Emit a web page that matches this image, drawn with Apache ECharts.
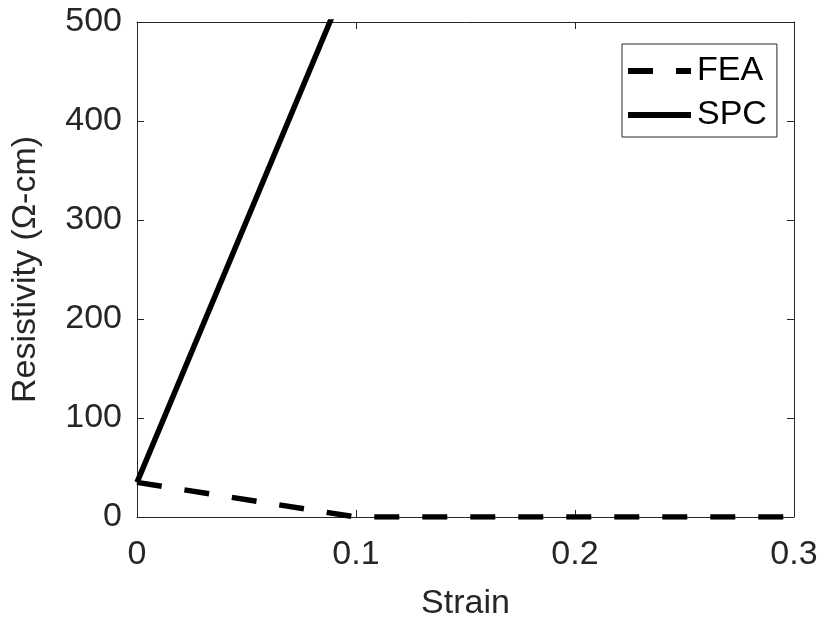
<!DOCTYPE html>
<html>
<head>
<meta charset="utf-8">
<script src="https://cdn.jsdelivr.net/npm/echarts@6/dist/echarts.min.js"></script>
<style>
  html, body { margin: 0; padding: 0; background: #fff; }
  #chart { width: 822px; height: 626px; }
</style>
</head>
<body>
<div id="chart"></div>
<script>
// Strain values and resistivity curves
const feaStrain = [0, 0.1, 0.15, 0.2, 0.25, 0.3];
const feaResistivity = [35, 0, 0, 0, 0, 0];
const spcStrain = [0, 0.1];
const spcResistivity = [35, 563];

const xTickLabels = ['0', '0.1', '0.2', '0.3'];
const yTickLabels = ['0', '100', '200', '300', '400', '500'];

const FONT = '"Liberation Sans", Arial, Helvetica, sans-serif';
const TEXT_COLOR = '#262626';
const AXIS_COLOR = '#262626';

// Legend keys drawn as filled paths: a broken dash and a solid bar
const DASH_KEY = 'path://M0,0H25V6H0Z M48,0H63V6H48Z';
const SOLID_KEY = 'path://M0,0H63V6H0Z';

function pairs(xs, ys) {
  return xs.map((x, i) => [x, ys[i]]);
}

const boxAxis = {
  axisLine: { show: true, onZero: false, lineStyle: { color: AXIS_COLOR, width: 1 } },
  axisTick: { show: true, inside: true, length: 7, lineStyle: { color: AXIS_COLOR, width: 1 } },
  splitLine: { show: false }
};

const chart = echarts.init(document.getElementById('chart'), null, { renderer: 'canvas' });

chart.setOption({
  animation: false,
  backgroundColor: '#ffffff',
  grid: { left: 137, right: 28, top: 22, bottom: 108, containLabel: false },
  xAxis: [
    Object.assign({}, boxAxis, {
      type: 'value', min: 0, max: 0.3, interval: 0.1, position: 'bottom',
      name: 'Strain', nameLocation: 'middle', nameGap: 70,
      nameTextStyle: { fontFamily: FONT, fontSize: 34, color: TEXT_COLOR },
      axisLabel: {
        margin: 21, fontFamily: FONT, fontSize: 34, color: TEXT_COLOR,
        formatter: (v) => xTickLabels[Math.round(v * 10)]
      }
    }),
    Object.assign({}, boxAxis, {
      type: 'value', min: 0, max: 0.3, interval: 0.1, position: 'top',
      axisLabel: { show: false }
    })
  ],
  yAxis: [
    Object.assign({}, boxAxis, {
      type: 'value', min: 0, max: 500, interval: 100, position: 'left',
      name: 'Resistivity (Ω-cm)', nameLocation: 'middle', nameGap: 94,
      nameTextStyle: { fontFamily: FONT, fontSize: 34, color: TEXT_COLOR },
      axisLabel: {
        margin: 15, fontFamily: FONT, fontSize: 34, color: TEXT_COLOR,
        formatter: (v) => yTickLabels[Math.round(v / 100)]
      }
    }),
    Object.assign({}, boxAxis, {
      type: 'value', min: 0, max: 500, interval: 100, position: 'right',
      axisLabel: { show: false }
    })
  ],
  legend: {
    left: 622, top: 44,
    orient: 'vertical',
    backgroundColor: '#ffffff',
    borderColor: AXIS_COLOR, borderWidth: 1, borderRadius: 0,
    padding: [10, 10, 5, 6],
    itemGap: 10,
    itemWidth: 63, itemHeight: 6,
    itemStyle: { color: '#000', borderWidth: 0 },
    lineStyle: { width: 0, opacity: 0 },
    textStyle: { fontFamily: FONT, fontSize: 34, color: '#000', lineHeight: 34, padding: [0, 0, 0, 1] },
    data: [
      { name: 'FEA', icon: DASH_KEY },
      { name: 'SPC', icon: SOLID_KEY }
    ]
  },
  series: [
    {
      name: 'FEA', type: 'line', xAxisIndex: 0, yAxisIndex: 0,
      data: pairs(feaStrain, feaResistivity),
      symbol: 'none', clip: true,
      lineStyle: { color: '#000', width: 5.5, type: [25, 23], cap: 'butt', join: 'miter' },
      itemStyle: { color: '#000' }
    },
    {
      name: 'SPC', type: 'line', xAxisIndex: 0, yAxisIndex: 0,
      data: pairs(spcStrain, spcResistivity),
      symbol: 'none', clip: true,
      lineStyle: { color: '#000', width: 5.5, type: 'solid', cap: 'butt' },
      itemStyle: { color: '#000' }
    }
  ]
});
</script>
</body>
</html>
